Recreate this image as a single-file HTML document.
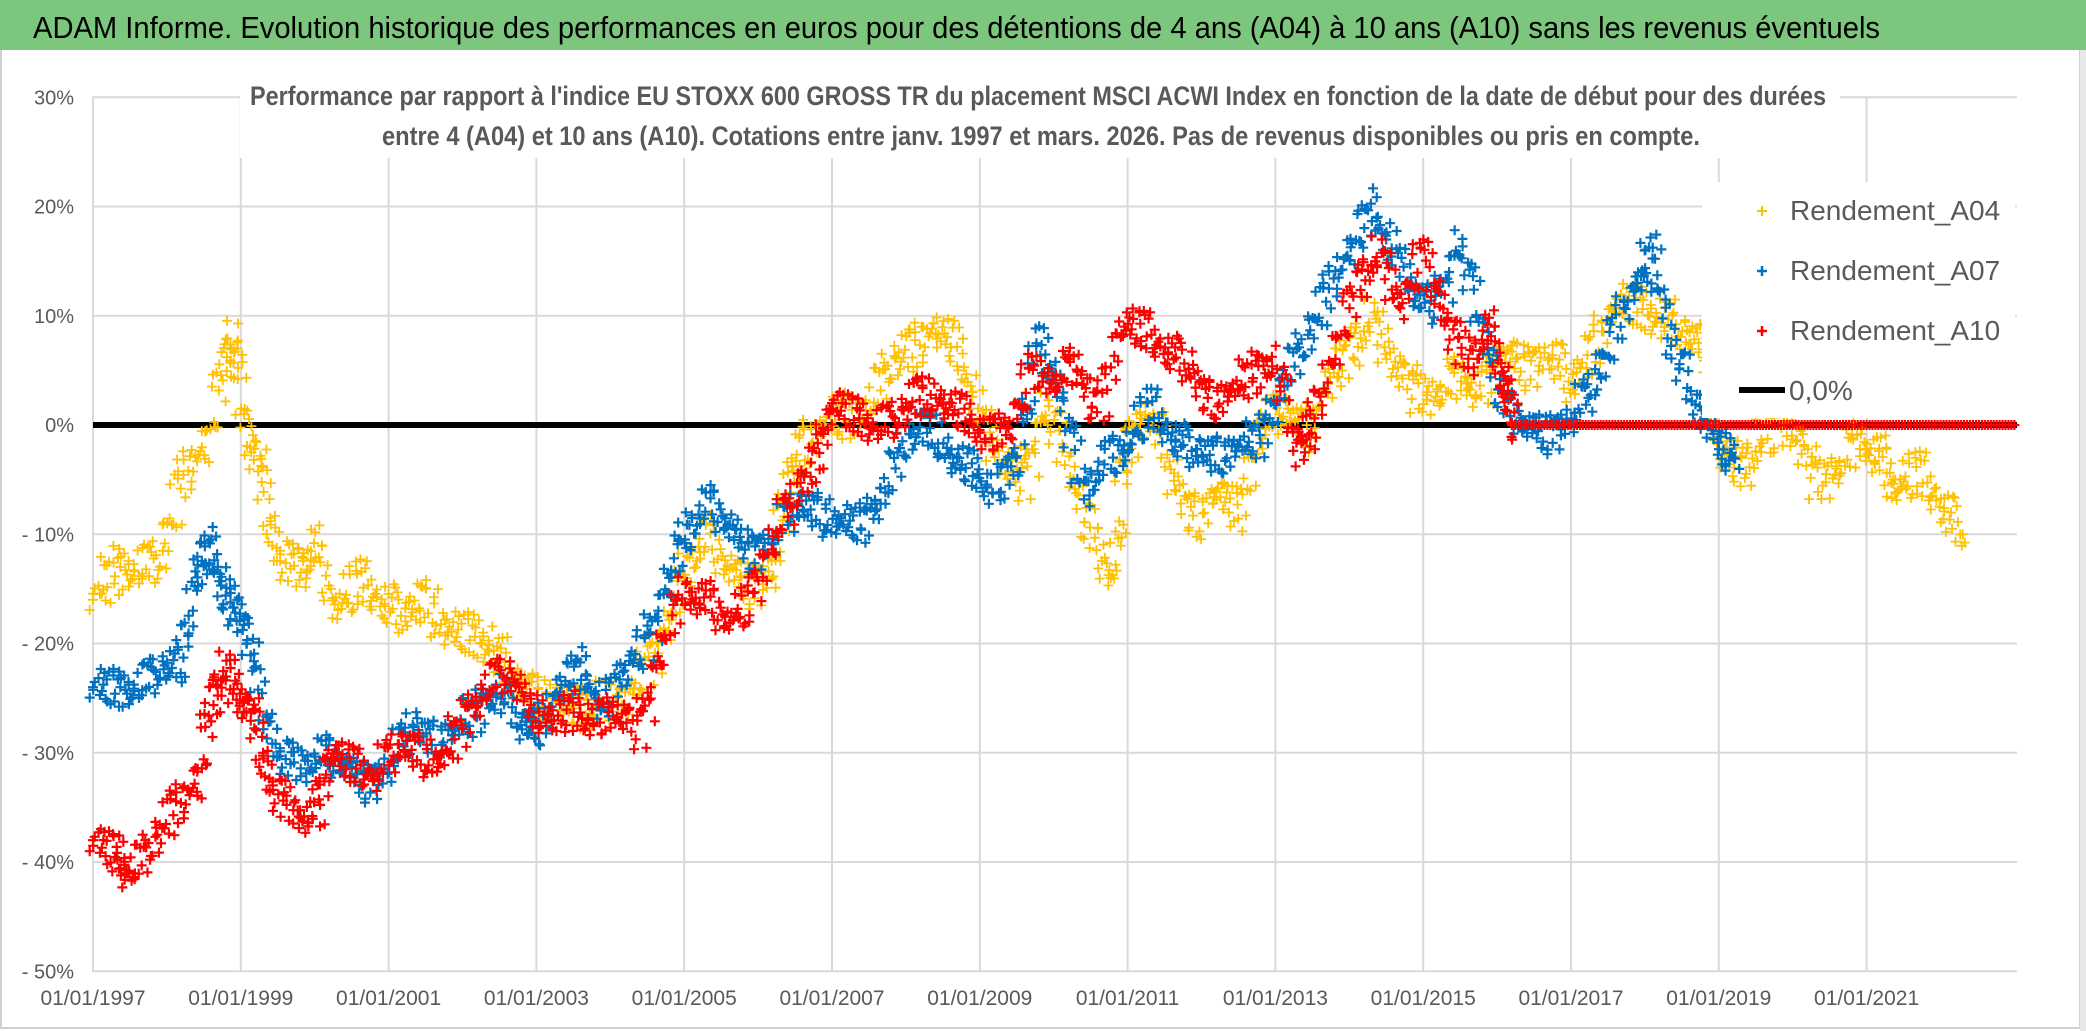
<!DOCTYPE html>
<html><head><meta charset="utf-8"><style>
html,body{margin:0;padding:0;background:#fff;}
svg{display:block;font-family:"Liberation Sans",sans-serif;}
</style></head><body>
<svg id="chart" width="2086" height="1031" viewBox="0 0 2086 1031" xmlns="http://www.w3.org/2000/svg">
<rect x="0" y="0" width="2086" height="1031" fill="#fff"/>
<rect x="1" y="1" width="2079" height="1027" fill="none" stroke="#d0d0d0" stroke-width="2"/>
<rect x="0" y="0" width="2086" height="50" fill="#7dc67d"/>
<rect x="2080" y="50" width="6" height="981" fill="#e8e8e8"/>
<text x="33" y="38" font-size="31" fill="#000" textLength="1847" lengthAdjust="spacingAndGlyphs">ADAM Informe. Evolution historique des performances en euros pour des détentions de 4 ans (A04) à 10 ans (A10) sans les revenus éventuels</text>
<g id="grid"></g>
<g id="axes"></g>
<rect x="240" y="78" width="1600" height="80" fill="#fff"/>
<text x="250" y="105" font-size="27" font-weight="bold" fill="#595959" textLength="1576" lengthAdjust="spacingAndGlyphs">Performance par rapport à l'indice EU STOXX 600 GROSS TR  du placement MSCI ACWI Index en fonction de la date de début pour des durées</text>
<text x="382" y="145" font-size="27" font-weight="bold" fill="#595959" textLength="1318" lengthAdjust="spacingAndGlyphs">entre 4 (A04) et 10 ans (A10). Cotations entre janv. 1997 et mars. 2026. Pas de revenus disponibles ou pris en compte.</text>
<g id="plot"></g>
<g id="legend">
<rect x="1702" y="182" width="313" height="236" fill="#fff"/>
<g><path d="M1757 211h10M1762 206v10" stroke="#ffc000" stroke-width="2"/><text x="1790" y="220" font-size="28" fill="#595959">Rendement_A04</text></g>
<g><path d="M1757 271h10M1762 266v10" stroke="#0070c0" stroke-width="2.5"/><text x="1790" y="280" font-size="28" fill="#595959">Rendement_A07</text></g>
<g><path d="M1757 331h10M1762 326v10" stroke="#ff0000" stroke-width="2.5"/><text x="1790" y="340" font-size="28" fill="#595959">Rendement_A10</text></g>
<g><line x1="1739" y1="390" x2="1785" y2="390" stroke="#000" stroke-width="6"/><text x="1789" y="400" font-size="28" fill="#595959">0,0%</text></g>
</g>
</svg>
<script>
const yTicks = [30,20,10,0,-10,-20,-30,-40,-50];
const yTickLabels = ["30%","20%","10%","0%","- 10%","- 20%","- 30%","- 40%","- 50%"];
const xTicks = [1997,1999,2001,2003,2005,2007,2009,2011,2013,2015,2017,2019,2021];
const xTickLabels = ["01/01/1997","01/01/1999","01/01/2001","01/01/2003","01/01/2005","01/01/2007","01/01/2009","01/01/2011","01/01/2013","01/01/2015","01/01/2017","01/01/2019","01/01/2021"];
const zeroLine = [0];

const a04Years = [1997.0,1997.3,1997.6,1997.9,1998.2,1998.5,1998.8,1998.9,1999.1,1999.3,1999.5,1999.8,2000.0,2000.3,2000.6,2000.9,2001.2,2001.5,2001.8,2002.1,2002.4,2002.7,2003.0,2003.3,2003.6,2003.9,2004.2,2004.5,2004.8,2005.0,2005.3,2005.6,2005.9,2006.2,2006.4,2006.6,2006.9,2007.2,2007.5,2007.8,2008.1,2008.4,2008.7,2009.0,2009.3,2009.6,2009.9,2010.2,2010.5,2010.8,2011.0,2011.3,2011.6,2011.9,2012.2,2012.5,2012.8,2013.1,2013.4,2013.7,2014.0,2014.3,2014.6,2014.9,2015.2,2015.5,2015.8,2016.1,2016.4,2016.7,2017.0,2017.3,2017.6,2017.9,2018.2,2018.5,2018.8,2019.0,2019.3,2019.6,2020.0,2020.3,2020.6,2020.9,2021.2,2021.4,2021.7,2022.0,2022.3];
const a04Vals = [-16,-13,-13,-12,-5,-2,6,8,-1,-5,-12,-13,-11,-17,-14,-16,-17,-16,-19,-19,-20,-23,-25,-25,-26,-25,-25,-22,-18,-13,-10,-13,-15,-13,-5,-2,0,1,2,6,7,9,7,1,-3,-5,2,-3,-10,-14,-2,2,-4,-9,-6,-8,0,2,-1,4,7,10,6,3,3,5,3,7,5,7,4,7,11,11,10,9,7,-2,-4,-1,0,-5,-4,-1,-3,-6,-4,-7,-10];

const a07Years = [1997.0,1997.3,1997.6,1997.9,1998.2,1998.4,1998.6,1998.8,1999.0,1999.2,1999.5,1999.8,2000.1,2000.4,2000.7,2001.0,2001.3,2001.6,2001.9,2002.2,2002.5,2002.8,2003.0,2003.3,2003.6,2003.9,2004.2,2004.5,2004.8,2005.0,2005.3,2005.6,2005.9,2006.2,2006.5,2006.8,2007.1,2007.4,2007.7,2008.0,2008.3,2008.6,2008.9,2009.2,2009.5,2009.8,2010.1,2010.4,2010.7,2011.0,2011.3,2011.6,2011.9,2012.2,2012.5,2012.8,2013.1,2013.4,2013.7,2014.0,2014.3,2014.6,2014.9,2015.2,2015.5,2015.8,2016.1,2016.4,2016.7,2017.0,2017.3,2017.6,2017.9,2018.1,2018.4,2018.7,2019.0,2019.2];
const a07Vals = [-24,-24,-24,-22,-22,-13,-11,-16,-17,-23,-30,-31,-30,-31,-33,-31,-27,-29,-28,-26,-24,-27,-28,-24,-22,-26,-22,-20,-14,-10,-7,-9,-12,-10,-7,-8,-9,-9,-6,-1,0,-3,-4,-6,-3,8,3,-6,-3,-2,2,-1,-2,-3,-2,-1,4,8,12,16,20,16,12,11,17,9,2,0,-1,1,4,9,13,16,7,2,-2,-3];

const a10Years = [1997.0,1997.3,1997.5,1997.8,1998.1,1998.4,1998.6,1998.8,1999.0,1999.2,1999.4,1999.7,2000.0,2000.2,2000.5,2000.8,2001.1,2001.4,2001.7,2002.0,2002.3,2002.6,2002.9,2003.2,2003.5,2003.8,2004.1,2004.4,2004.7,2005.0,2005.3,2005.6,2005.9,2006.2,2006.5,2006.8,2007.0,2007.3,2007.6,2007.9,2008.2,2008.5,2008.8,2009.1,2009.4,2009.7,2010.0,2010.3,2010.6,2010.9,2011.2,2011.5,2011.8,2012.1,2012.4,2012.7,2013.0,2013.3,2013.5,2013.8,2014.1,2014.4,2014.7,2015.0,2015.3,2015.6,2015.9,2016.1,2016.2,2017.0,2018.0,2019.0,2020.0,2021.0,2022.0,2023.0];
const a10Vals = [-38,-39,-41,-38,-35,-33,-25,-22,-25,-27,-33,-35,-36,-30,-31,-32,-29,-30,-31,-27,-24,-22,-26,-27,-26,-27,-26,-28,-20,-15,-16,-18,-16,-10,-6,-3,2,1,0,1,3,2,1,-1,0,5,4,6,1,9,9,7,6,2,3,5,6,-2,0,7,13,16,11,16,10,6,9,4,0,0,0,0,0,0,0,0];

const NS = "http://www.w3.org/2000/svg";
const X0 = 93, PXY = 73.9, Y0 = 425, PXP = 10.925;
const PLOT_L = 92, PLOT_R = 2017, PLOT_T = 98, PLOT_B = 971;
function xs(year){ return X0 + (year - 1997) * PXY; }
function ys(v){ return Y0 - v * PXP; }
function mk(tag, attrs, parent){ const e = document.createElementNS(NS, tag); for (const k in attrs) e.setAttribute(k, attrs[k]); parent.appendChild(e); return e; }

const grid = document.getElementById('grid');
const axes = document.getElementById('axes');
yTicks.forEach((t, i) => {
  const l = mk('line', {x1: PLOT_L, x2: PLOT_R, y1: ys(t), y2: ys(t), stroke: '#d9d9d9', 'stroke-width': 2}, grid);
  
  
  const tx = mk('text', {x: 74, y: ys(t) + 7, 'font-size': 20, fill: '#595959', 'text-anchor': 'end'}, axes);
  
  
  tx.textContent = yTickLabels[i];
});
xTicks.forEach((t, i) => {
  const l = mk('line', {x1: xs(t), x2: xs(t), y1: PLOT_T, y2: PLOT_B, stroke: '#d9d9d9', 'stroke-width': 2}, grid);
  
  
  const tx = mk('text', {x: xs(t), y: 1005, 'font-size': 21, fill: '#595959', 'text-anchor': 'middle'}, axes);
  
  
  tx.textContent = xTickLabels[i];
});

const plot = document.getElementById('plot');
const zl = mk('line', {x1: X0, x2: PLOT_R, y1: ys(zeroLine[0]), y2: ys(zeroLine[0]), stroke: '#000', 'stroke-width': 6}, plot);



const offs = [0, -9, 6, -4, 11, -12, 3, 8, -6, 13, -2, 5, -14, 9, -7, 15, -11, 2];
function drawSeries(years, vals, color, name, spread, sw){
  const g = mk('g', {stroke: color, 'stroke-width': sw, fill: 'none'}, plot);
  
  
  let d = '';
  const steps = 18;
  for (let i = 0; i < years.length - 1; i++) {
    const x1 = xs(years[i]), y1 = ys(vals[i]), x2 = xs(years[i+1]), y2 = ys(vals[i+1]);
    const flat = vals[i] === 0 && vals[i+1] === 0;
    const n = flat ? Math.max(2, Math.round((x2 - x1) / 3)) : steps;
    for (let k = 0; k < n; k++) {
      const f = k / n;
      const x = x1 + (x2 - x1) * f + (flat ? 0 : offs[(i*7+k) % offs.length] * 0.5);
      const y = y1 + (y2 - y1) * f + (flat ? 0 : offs[(i*5+k*7) % offs.length] * spread);
      d += `M${(x-5).toFixed(1)} ${y.toFixed(1)}h10M${x.toFixed(1)} ${(y-5).toFixed(1)}v10`;
    }
  }
  const xl = xs(years[years.length-1]), yl = ys(vals[vals.length-1]);
  d += `M${xl-5} ${yl}h10M${xl} ${yl-5}v10`;
  mk('path', {d: d}, g);
}
drawSeries(a04Years, a04Vals, '#ffc000', 'series-rendement-a04', 1.5, 1.8);
drawSeries(a07Years, a07Vals, '#0070c0', 'series-rendement-a07', 1.3, 2.2);
drawSeries(a10Years, a10Vals, '#ff0000', 'series-rendement-a10', 1.3, 2.2);
</script>
</body></html>
